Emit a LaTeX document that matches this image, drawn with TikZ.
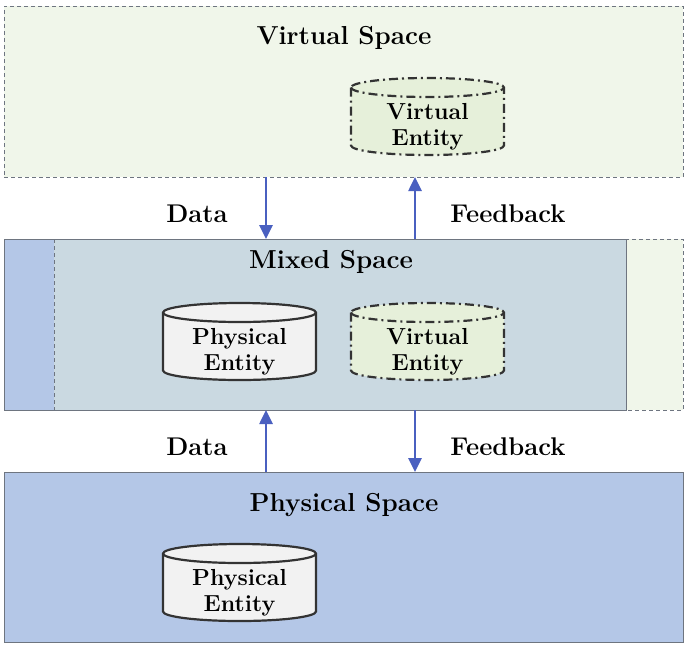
\documentclass[tikz,border=0pt]{standalone}
\usetikzlibrary{arrows.meta}
\definecolor{vgreen}{HTML}{F0F6EA}
\definecolor{pblue}{HTML}{B4C7E7}
\definecolor{mixc}{HTML}{CAD9E1}
\definecolor{arrowc}{HTML}{4A60C0}
\definecolor{vent}{HTML}{E6F0DA}
\definecolor{pent}{HTML}{F2F2F2}
\definecolor{edgec}{HTML}{333333}
\definecolor{borderc}{HTML}{6E7580}
\pgfdeclarelayer{bg}
\pgfdeclarelayer{cyl}
\pgfsetlayers{bg,cyl,main}
\newcommand\drawcyl[2]{%
  \draw[#2] ([shift={(-38.25pt,19.75pt)}]#1.center) -- ([shift={(-38.25pt,-9.25pt)}]#1.center)
    arc[start angle=180,end angle=360,x radius=38.25pt,y radius=4.75pt]
    -- ([shift={(38.25pt,19.75pt)}]#1.center)
    arc[start angle=0,end angle=180,x radius=38.25pt,y radius=4.75pt] -- cycle;
  \draw[#2, fill=none] ([shift={(-38.25pt,19.75pt)}]#1.center)
    arc[start angle=180,end angle=360,x radius=38.25pt,y radius=4.75pt];}
\begin{document}
\begin{tikzpicture}[x=0.5pt,y=-0.5pt,
 spacebox/.style={rectangle, anchor=north west, inner sep=0pt, outer sep=0pt},
 vspace/.style={spacebox, draw=borderc, dash pattern=on 2pt off 1.5pt, fill=vgreen, line width=0.4pt},
 pspace/.style={spacebox, draw=borderc, fill=pblue, line width=0.5pt},
 title/.style={font=\fontsize{13}{15.6}\selectfont\bfseries, text=black},
 lab/.style={font=\fontsize{12.8}{15}\selectfont\bfseries},
 entity/.style={rectangle, inner sep=0pt, align=center, font=\fontsize{11.6}{13.2}\selectfont\bfseries},
 pcyl/.style={draw=edgec, line width=1.1pt, fill=pent},
 vcyl/.style={draw=edgec, line width=1.1pt, fill=vent, dash pattern=on 4.5pt off 2pt on 1pt off 2pt},
 flow/.style={draw=arrowc, line width=1.3pt, -{Triangle[length=7pt,width=6.5pt]}}
]
\useasboundingbox (0,0) rectangle (688,647);
\begin{pgfonlayer}{bg}
% virtual space
\node[vspace, minimum width=339.5pt, minimum height=85.5pt] (vs) at (4,6) {};
% mixed space
\node[pspace, minimum width=311pt, minimum height=85.5pt] (msp) at (4,239) {};
\node[vspace, minimum width=314.5pt, minimum height=85.5pt] (msv) at (54,239) {};
\fill[mixc] (msv.north west) rectangle (msp.south east);
\draw[borderc, line width=0.5pt] (msp.north west) rectangle (msp.south east);
\draw[borderc, line width=0.4pt, dash pattern=on 2pt off 1.5pt] (msv.north west) -- (msv.south west);
% physical space
\node[pspace, minimum width=339.5pt, minimum height=85pt] (ps) at (4,472) {};
\end{pgfonlayer}
% titles
\node[title] (vst) at (344,38) {Virtual Space};
\node[title] (mst) at (331,262) {Mixed Space};
\node[title] (pst) at (344,505) {Physical Space};
% entities
\node[entity] (ve1) at (427.5,127) {Virtual\\Entity};
\node[entity] (pe2) at (239.5,352) {Physical\\Entity};
\node[entity] (ve2) at (427.5,352) {Virtual\\Entity};
\node[entity] (pe3) at (239.5,593) {Physical\\Entity};
\begin{pgfonlayer}{cyl}
\drawcyl{ve1}{vcyl}
\drawcyl{pe2}{pcyl}
\drawcyl{ve2}{vcyl}
\drawcyl{pe3}{pcyl}
\end{pgfonlayer}
% arrows
\coordinate (dcol) at (266,0);
\coordinate (fcol) at (415,0);
\draw[flow] (vs.south -| dcol) -- (msp.north -| dcol);
\draw[flow] (msp.north -| fcol) -- (vs.south -| fcol);
\draw[flow] (ps.north -| dcol) -- (msp.south -| dcol);
\draw[flow] (msp.south -| fcol) -- (ps.north -| fcol);
% labels
\node[lab] (l1) at (197,214) {Data};
\node[lab] (l2) at (508,214) {Feedback};
\node[lab] (l3) at (197,447) {Data};
\node[lab] (l4) at (508,447) {Feedback};
\end{tikzpicture}
\end{document}
